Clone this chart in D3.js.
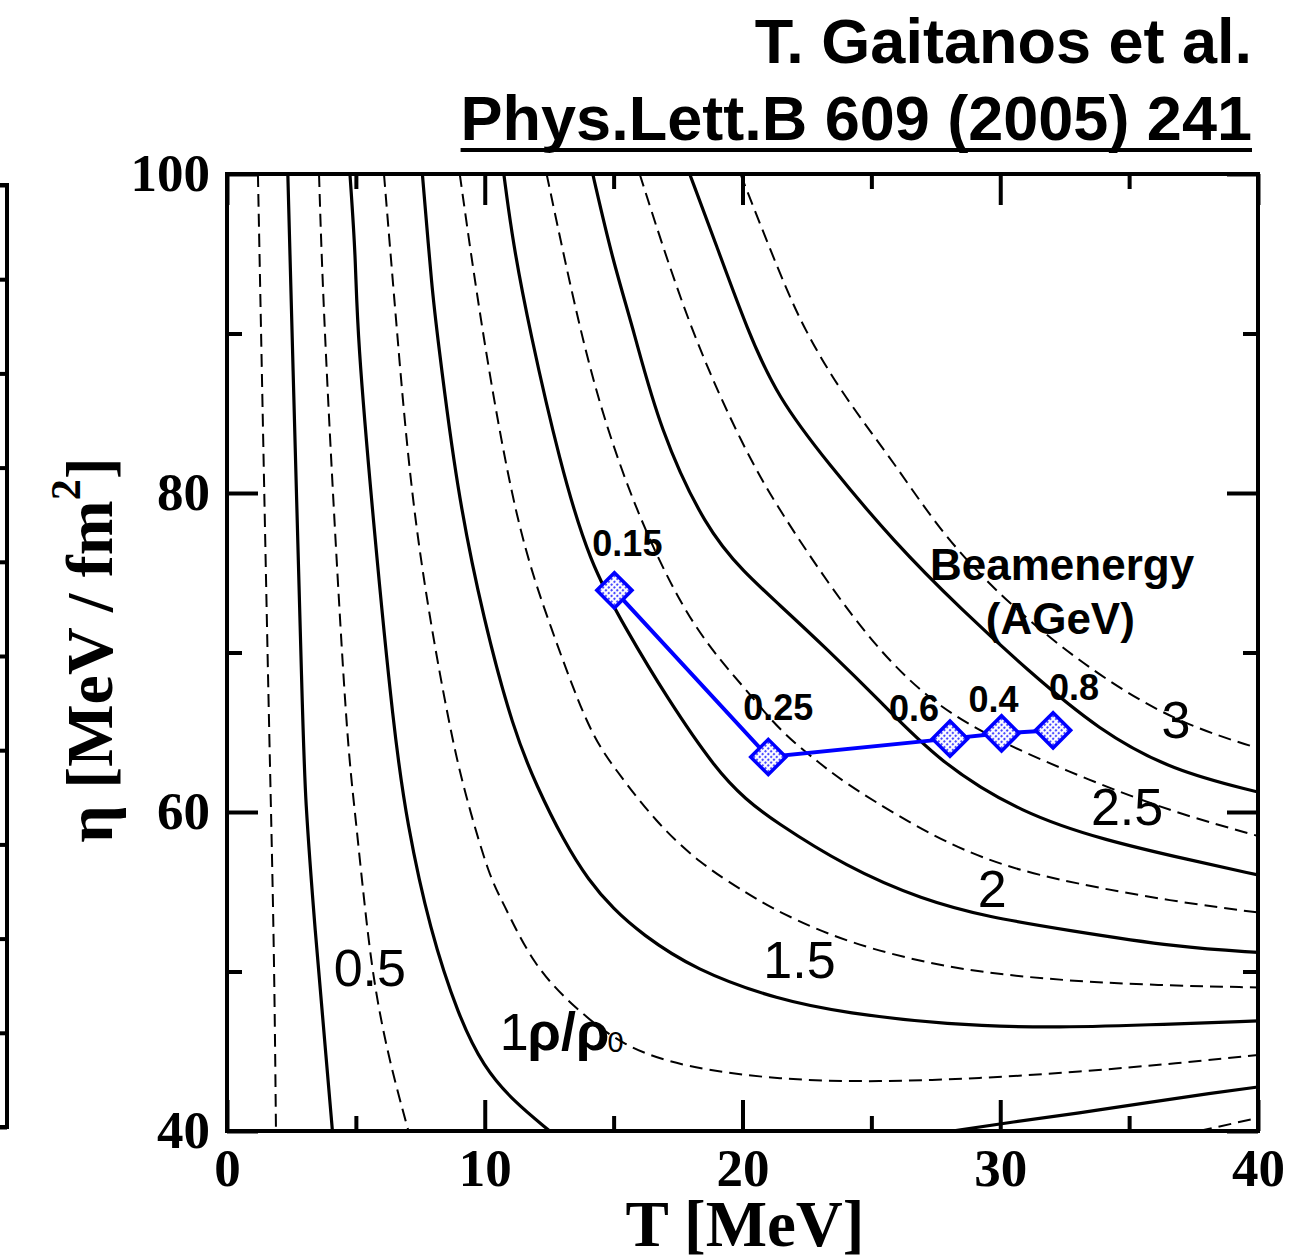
<!DOCTYPE html>
<html>
<head>
<meta charset="utf-8">
<script src="https://cdn.jsdelivr.net/npm/d3@7"></script>
<style>
  body { margin: 0; background: #fff; }
  svg { display: block; }
</style>
</head>
<body>
<svg id="chart" width="1291" height="1260"></svg>
<script>
// ---- Density contours rho/rho0 in the (T, eta) plane: [T (MeV), eta (MeV/fm^2)] ----
const rho025 = [[1.20,100],[1.32,90.2],[1.63,65.1],[1.82,52.6],[1.90,40]];
const rho050 = [[2.36,100],[2.52,90.2],[2.95,65.1],[3.02,61.2],[3.41,52.6],[3.88,44.0],[4.09,40]];
const rho075 = [[3.57,100],[3.76,90.2],[4.61,65.1],[4.92,60.75],[5.43,52.6],[5.81,48.2],[6.36,44.0],[7.04,40]];
const rho100 = [[4.77,100],[5.00,94.6],[5.04,90.2],[5.70,77.7],[6.47,65.1],[6.98,59.3],[7.87,52.6],[8.99,47.15],[9.96,44.0],[11.09,41.9],[12.52,40]];
const rho125 = [[6.09,100],[6.59,90.2],[7.25,77.7],[8.64,65.1],[9.30,60.75],[10.19,55.9],[10.66,54.5],[11.90,50.3],[13.57,47.6],[15.37,45.3],[17.71,44.0],[21.43,43.2],[25.31,43.07],[29.19,43.3],[33.06,43.7],[36.94,44.26],[40,44.76]];
const rho150 = [[7.58,100],[7.97,92.5],[8.14,90.2],[8.91,80.2],[9.96,72.0],[11.12,65.1],[12.02,61.6],[13.06,58.2],[14.03,55.7],[15.00,53.9],[16.05,52.4],[18.14,50.1],[21.43,48.2],[24.03,47.4],[27.91,46.65],[32.02,46.46],[35.66,46.65],[40,46.9]];
const rho175 = [[9.03,100],[9.88,90.2],[11.24,77.7],[12.60,71.4],[14.03,65.1],[15.00,62.8],[16.67,59.3],[18.33,56.8],[20.16,54.9],[21.43,53.7],[24.03,51.8],[27.91,50.2],[31.78,49.5],[35.66,49.15],[40,49.0]];
const rho200 = [[10.74,100],[11.09,95.7],[11.74,90.2],[12.91,81.9],[14.07,75.6],[15.50,71.4],[17.05,67.2],[18.99,62.6],[20.16,60.75],[21.16,59.5],[24.03,56.55],[26.98,54.5],[29.57,53.4],[32.56,52.6],[36.94,51.5],[40,51.2]];
const rho225 = [[12.40,100],[13.68,90.2],[14.73,84.0],[16.16,77.7],[18.10,71.4],[20.16,67.65],[21.43,65.1],[22.98,63.07],[24.15,61.6],[27.64,58.2],[30.23,56.55],[32.79,55.55],[36.67,54.4],[40,53.7]];
const rho250 = [[14.19,100],[14.96,94.6],[15.78,90.2],[16.78,84.0],[18.60,77.7],[20.08,75.0],[21.36,73.1],[23.29,70.2],[25.31,67.0],[27.64,63.1],[30.85,59.9],[34.11,58.2],[37.33,57.0],[40,56.05]];
const rho275 = [[16.01,100],[17.95,90.2],[20.08,82.7],[21.36,79.1],[23.29,74.4],[25.23,70.2],[27.44,66.7],[30.08,64.3],[33.45,62.0],[36.67,60.0],[40,58.5]];
const rho300 = [[17.95,100],[18.95,95.7],[20.19,90.2],[21.36,86.0],[23.29,81.9],[25.89,76.9],[28.49,72.7],[31.05,68.9],[33.84,65.1],[36.67,62.6],[40,61.25]];
const rho325 = [[19.92,100],[21.43,93.8],[22.40,90.2],[23.95,86.0],[25.89,81.9],[27.83,77.2],[30.43,72.85],[33.64,68.7],[36.86,65.6],[40,64.0]];
// second branch of the low levels at high T / low eta
const rho100b = [[28.14,40],[30.47,40.56],[33.06,41.13],[35.66,41.76],[38.22,42.38],[40,42.76]];
const rho075b = [[37.71,40],[40,40.82]];

const contours = [
  {level: 0.25, pts: rho025}, {level: 0.5, pts: rho050}, {level: 0.75, pts: rho075},
  {level: 1.0, pts: rho100}, {level: 1.25, pts: rho125}, {level: 1.5, pts: rho150},
  {level: 1.75, pts: rho175}, {level: 2.0, pts: rho200}, {level: 2.25, pts: rho225},
  {level: 2.5, pts: rho250}, {level: 2.75, pts: rho275}, {level: 3.0, pts: rho300},
  {level: 3.25, pts: rho325}, {level: 1.0, pts: rho100b}, {level: 0.75, pts: rho075b}
];

// ---- Freeze-out points for the different beam energies ----
const beamEnergies = ["0.15", "0.25", "0.6", "0.4", "0.8"];
const temperatures = [15.03, 21.0, 28.05, 30.05, 32.05];
const etaValues = [73.9, 63.45, 64.6, 64.93, 65.12];

// ---- Axis ticks ----
const xMajorTicks = [0, 10, 20, 30, 40];
const xMinorTicks = [5, 15, 25, 35];
const yMajorTicks = [40, 60, 80, 100];
const yMinorTicks = [50, 70, 90];

// ---- Contour annotations ----
const contourLabels = [
  {text: "0.5", T: 5.54, eta: 49.1},
  {text: "1.5", T: 22.21, eta: 49.6},
  {text: "2", T: 29.69, eta: 54.04},
  {text: "2.5", T: 34.92, eta: 59.18},
  {text: "3", T: 36.82, eta: 64.64}
];

const svg = d3.select("#chart");
const SANS = "'Liberation Sans', Arial, Helvetica, sans-serif";
const SERIF = "'Liberation Serif', 'Times New Roman', serif";

const x = d3.scaleLinear().domain([0, 40]).range([227, 1258]);
const y = d3.scaleLinear().domain([40, 100]).range([1131, 174]);

const defs = svg.append("defs");
defs.append("clipPath").attr("id", "plotClip")
  .append("rect").attr("x", x(0)).attr("y", y(100))
  .attr("width", x(40) - x(0)).attr("height", y(40) - y(100));

// dotted fill for the markers
const pat = defs.append("pattern").attr("id", "dotFill")
  .attr("patternUnits", "userSpaceOnUse").attr("width", 4).attr("height", 4);
pat.append("rect").attr("width", 4).attr("height", 4).attr("fill", "#ffffff");
pat.append("circle").attr("cx", 2).attr("cy", 2).attr("r", 1.15).attr("fill", "#3c3cff");

// ---- Contour lines ----
const line = d3.line()
  .x(d => x(d[0])).y(d => y(d[1]))
  .curve(d3.curveBasis);

const isHalf = l => Math.abs(l * 2 - Math.round(l * 2)) < 1e-6;

svg.append("g").attr("clip-path", "url(#plotClip)")
  .selectAll("path").data(contours).join("path")
  .attr("d", d => line(d.pts))
  .attr("fill", "none")
  .attr("stroke", "#000")
  .attr("stroke-width", d => isHalf(d.level) ? 3.2 : 2)
  .attr("stroke-dasharray", d => isHalf(d.level) ? null : "13,7");

// ---- Axes (ticks pointing into the frame) ----
function styleAxis(g) {
  g.select(".domain").remove();
  g.selectAll(".tick line").attr("stroke", "#000").attr("stroke-width", 4);
  g.selectAll("text").attr("fill", "#000")
    .style("font-family", SERIF).style("font-weight", "bold").style("font-size", "53px");
}

svg.append("g").attr("transform", `translate(0,${y(40)})`)
  .call(d3.axisBottom(x).tickValues(xMajorTicks).tickSize(-31).tickPadding(17).tickFormat(d3.format("d")))
  .call(styleAxis);
svg.append("g").attr("transform", `translate(0,${y(40)})`)
  .call(d3.axisBottom(x).tickValues(xMinorTicks).tickSize(-15).tickFormat(""))
  .call(styleAxis);
svg.append("g").attr("transform", `translate(0,${y(100)})`)
  .call(d3.axisTop(x).tickValues(xMajorTicks).tickSize(-31).tickFormat(""))
  .call(styleAxis);
svg.append("g").attr("transform", `translate(0,${y(100)})`)
  .call(d3.axisTop(x).tickValues(xMinorTicks).tickSize(-15).tickFormat(""))
  .call(styleAxis);
svg.append("g").attr("transform", `translate(${x(0)},0)`)
  .call(d3.axisLeft(y).tickValues(yMajorTicks).tickSize(-31).tickPadding(17).tickFormat(d3.format("d")))
  .call(styleAxis);
svg.append("g").attr("transform", `translate(${x(0)},0)`)
  .call(d3.axisLeft(y).tickValues(yMinorTicks).tickSize(-15).tickFormat(""))
  .call(styleAxis);
svg.append("g").attr("transform", `translate(${x(40)},0)`)
  .call(d3.axisRight(y).tickValues(yMajorTicks).tickSize(-31).tickFormat(""))
  .call(styleAxis);
svg.append("g").attr("transform", `translate(${x(40)},0)`)
  .call(d3.axisRight(y).tickValues(yMinorTicks).tickSize(-15).tickFormat(""))
  .call(styleAxis);

// frame
svg.append("rect")
  .attr("x", x(0)).attr("y", y(100))
  .attr("width", x(40) - x(0)).attr("height", y(40) - y(100))
  .attr("fill", "none").attr("stroke", "#000").attr("stroke-width", 4);

// ---- Right edge of the neighbouring panel ----
const yNeighbour = d3.scaleLinear().domain([0, 1]).range([1127, 185]);
svg.append("rect")
  .attr("x", -60).attr("y", yNeighbour(1))
  .attr("width", 67).attr("height", yNeighbour(0) - yNeighbour(1))
  .attr("fill", "none").attr("stroke", "#000").attr("stroke-width", 4);
svg.append("g").attr("transform", "translate(7,0)")
  .call(d3.axisRight(yNeighbour).ticks(10).tickSize(-20).tickFormat(""))
  .call(styleAxis);

// ---- Contour level labels ----
svg.append("g").selectAll("text").data(contourLabels).join("text")
  .attr("x", d => x(d.T)).attr("y", d => y(d.eta))
  .attr("text-anchor", "middle")
  .style("font-family", SANS).style("font-size", "52px")
  .text(d => d.text);

const rhoLabel = svg.append("text")
  .attr("x", x(10.58)).attr("y", y(45.08))
  .style("font-family", SANS).style("font-size", "52px");
rhoLabel.append("tspan").text("1");
rhoLabel.append("tspan").attr("dx", -1).style("font-weight", "bold").style("font-size", "54px").text("ρ/ρ");
rhoLabel.append("tspan").attr("dx", -2).attr("dy", 2).style("font-size", "29px").text("0");

// ---- Beam-energy trajectory ----
const trajectory = beamEnergies.map((e, i) => ({e, T: temperatures[i], eta: etaValues[i]}));

svg.append("path")
  .datum(trajectory)
  .attr("d", d3.line().x(d => x(d.T)).y(d => y(d.eta)))
  .attr("fill", "none").attr("stroke", "#0000ff").attr("stroke-width", 4);

svg.append("g").selectAll("path").data(trajectory).join("path")
  .attr("d", d3.symbol(d3.symbolSquare, 620))
  .attr("transform", d => `translate(${x(d.T)},${y(d.eta)}) rotate(45)`)
  .attr("fill", "url(#dotFill)").attr("stroke", "#0000ff").attr("stroke-width", 3.5);

// label offsets (px) of the beam energy tags relative to their markers
const tagOffsets = [[13, -34], [10, -37], [-36, -18], [-8, -21], [21, -30]];
svg.append("g").selectAll("text").data(trajectory).join("text")
  .attr("x", (d, i) => x(d.T) + tagOffsets[i][0])
  .attr("y", (d, i) => y(d.eta) + tagOffsets[i][1])
  .attr("text-anchor", "middle")
  .style("font-family", SANS).style("font-weight", "bold").style("font-size", "36px")
  .text(d => d.e);

svg.append("text").attr("x", x(32.40)).attr("y", y(74.55))
  .attr("text-anchor", "middle")
  .style("font-family", SANS).style("font-weight", "bold").style("font-size", "44px")
  .text("Beamenergy");
svg.append("text").attr("x", x(32.33)).attr("y", y(71.16))
  .attr("text-anchor", "middle")
  .style("font-family", SANS).style("font-weight", "bold").style("font-size", "44px")
  .text("(AGeV)");

// ---- Axis titles ----
svg.append("text").attr("x", 745).attr("y", 1246)
  .attr("text-anchor", "middle")
  .style("font-family", SERIF).style("font-weight", "bold").style("font-size", "65px")
  .text("T [MeV]");

const yTitle = svg.append("text")
  .attr("transform", "translate(112,650) rotate(-90)")
  .attr("text-anchor", "middle")
  .style("font-family", SERIF).style("font-weight", "bold").style("font-size", "66px");
yTitle.append("tspan").text("η [MeV / fm");
yTitle.append("tspan").attr("dy", -32).style("font-size", "42px").text("2");
yTitle.append("tspan").attr("dy", 32).text("]");

// ---- Reference header ----
const header = svg.append("g")
  .style("font-family", SANS).style("font-weight", "bold").style("font-size", "63px");
header.append("text").attr("x", 1252).attr("y", 63).attr("text-anchor", "end")
  .text("T. Gaitanos et al.");
const ref = header.append("text").attr("x", 1252).attr("y", 140).attr("text-anchor", "end")
  .text("Phys.Lett.B 609 (2005) 241");
const refW = ref.node().getComputedTextLength();
svg.append("line")
  .attr("x1", 1252 - refW).attr("x2", 1252)
  .attr("y1", 150).attr("y2", 150)
  .attr("stroke", "#000").attr("stroke-width", 4);
</script>
</body>
</html>
